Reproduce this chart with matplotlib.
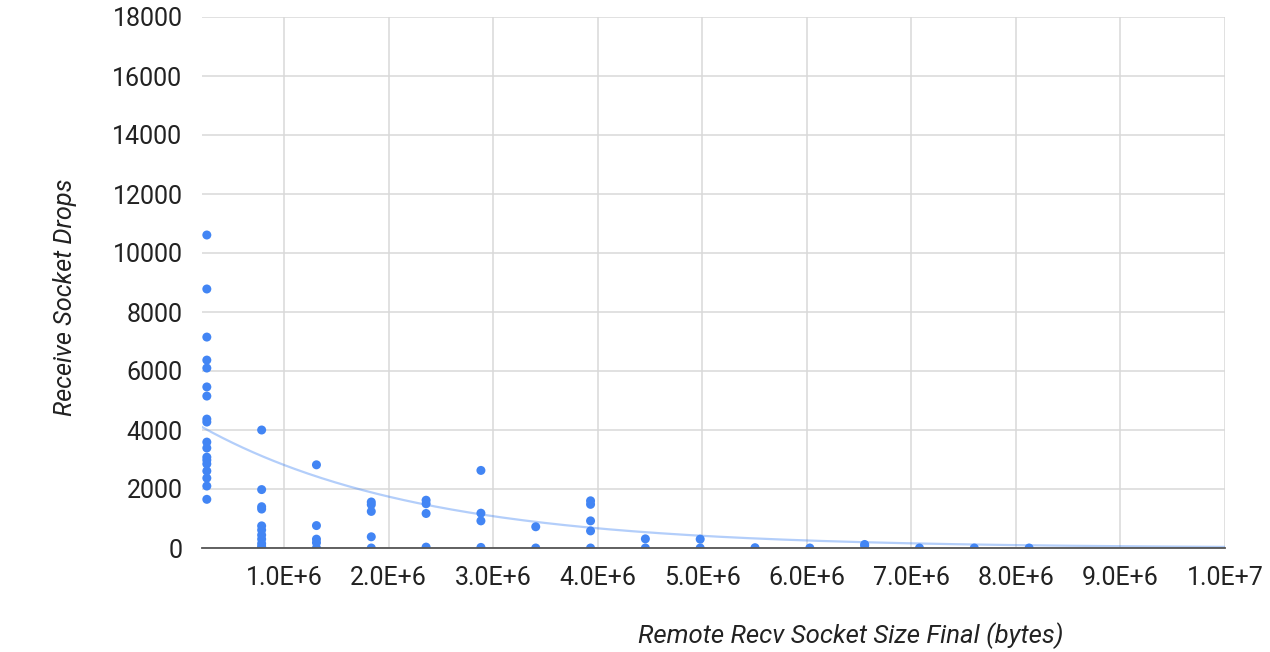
import numpy as np
import matplotlib
matplotlib.use("Agg")
import matplotlib.pyplot as plt

plt.rcParams['font.family'] = ['Roboto', 'DejaVu Sans']

# socket size buckets (bytes) and the drop counts seen at each
sizes = [262144, 786432, 1310720, 1835008, 2359296, 2883584, 3407872, 3932160,
         4456448, 4980736, 5505024, 6029312, 6553600, 7077888, 7602176, 8126464]
drops = [
    [10610, 8780, 7150, 6370, 6100, 5460, 5150, 4370, 4270, 3590, 3390, 3080,
     2980, 2850, 2610, 2370, 2100, 1650],
    [4000, 1980, 1400, 1320, 750, 610, 440, 300, 150, 50, 0],
    [2820, 760, 300, 180, 0],
    [1560, 1470, 1240, 380, 0],
    [1620, 1500, 1170, 30],
    [2630, 1180, 920, 20],
    [720, 0],
    [1600, 1480, 920, 580, 0],
    [310, 0],
    [300, 0],
    [10],
    [0],
    [120, 80],
    [0],
    [0],
    [0],
]

# exponential trendline y = a * exp(b * x)
trend_a = 4550
trend_b = -0.48e-6

xs = []
ys = []
for s, d in zip(sizes, drops):
    xs += [s] * len(d)
    ys += d

fig = plt.figure(figsize=(12.7, 6.52), dpi=100)
ax = fig.add_axes([202 / 1270, 1 - 548 / 652, (1225 - 202) / 1270, (548 - 17) / 652])

x_min, x_max = 0.216e6, 1.0e7
tx = np.linspace(x_min, x_max, 300)
ax.plot(tx, trend_a * np.exp(trend_b * tx), color='#4285F4', alpha=0.4, lw=1.6, zorder=2)
ax.scatter(xs, ys, s=42, color='#4285F4', edgecolors='none', zorder=3)

ax.set_xlim(x_min, x_max)
ax.set_ylim(0, 18000)
ax.set_yticks(np.arange(0, 18001, 2000))
xt = np.arange(1, 11) * 1e6
ax.set_xticks(xt)
ax.set_xticklabels(['%.1fE+%d' % (v / 10 ** int(np.log10(v)), int(np.log10(v))) for v in xt])

ax.grid(True, color='#d9d9d9', lw=1.1)
ax.set_axisbelow(True)
for side in ['top', 'right', 'left']:
    ax.spines[side].set_visible(False)
ax.spines['bottom'].set_color('#555555')
ax.spines['bottom'].set_linewidth(1.3)
ax.spines['bottom'].set_zorder(4)
ax.tick_params(axis='both', length=0, labelsize=18, colors='#222222')
ax.tick_params(axis='y', pad=14)
ax.tick_params(axis='x', pad=13)

fig.text(65 / 1270, 1 - 297 / 652, 'Receive Socket Drops', rotation=90, style='italic',
         fontsize=18.3, color='#222222', ha='center', va='center')
fig.text(851 / 1270, 1 - 636 / 652, 'Remote Recv Socket Size Final (bytes)', style='italic',
         fontsize=18.5, color='#222222', ha='center', va='center')

fig.savefig('out.png', dpi=100)
